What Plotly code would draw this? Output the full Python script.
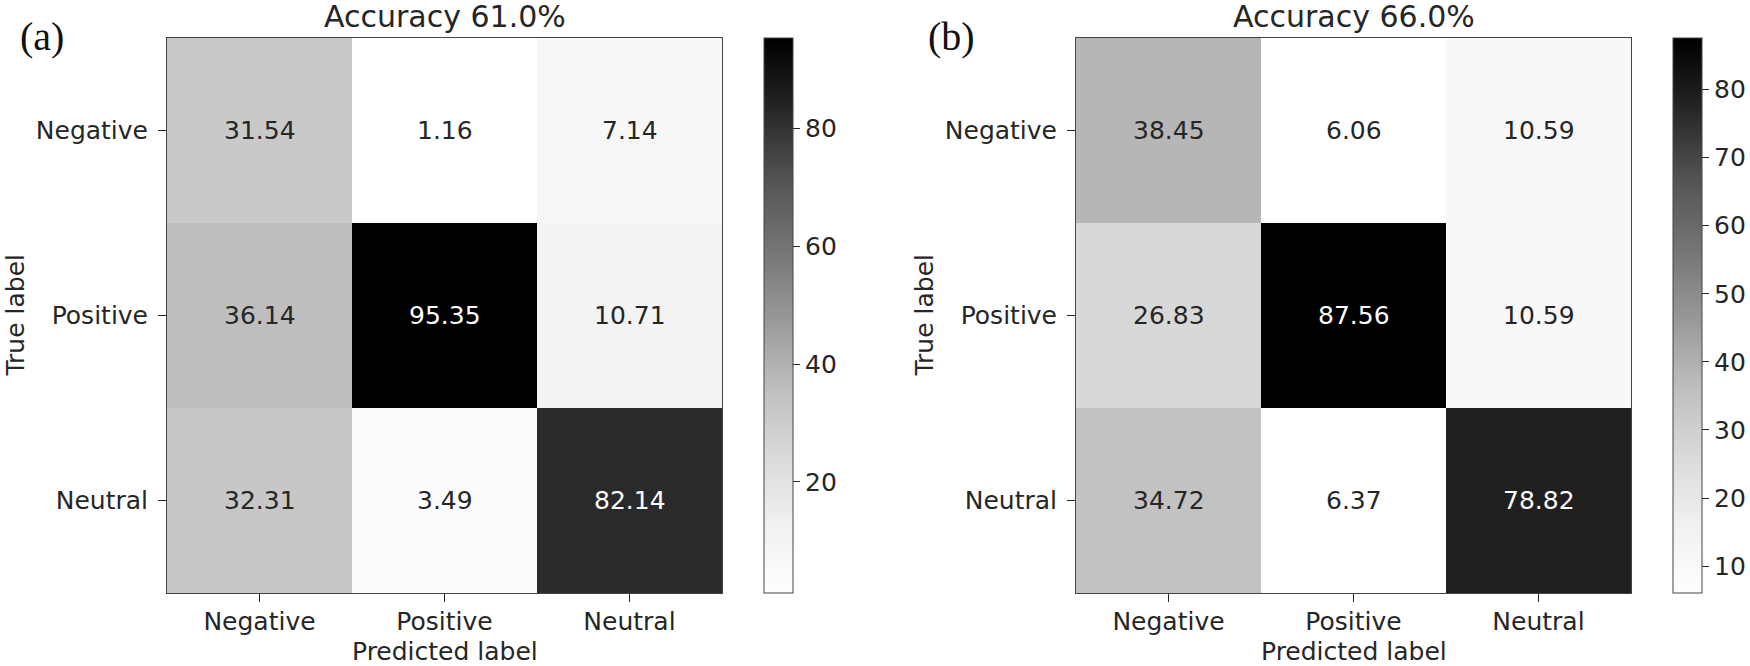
import plotly.graph_objects as go

W, H = 1750, 666

labels = ["Negative", "Positive", "Neutral"]

cm_a = [
    [31.54, 1.16, 7.14],
    [36.14, 95.35, 10.71],
    [32.31, 3.49, 82.14],
]
cm_b = [
    [38.45, 6.06, 10.59],
    [26.83, 87.56, 10.59],
    [34.72, 6.37, 78.82],
]
titles = ["Accuracy 61.0%", "Accuracy 66.0%"]
panel_tags = ["(a)", "(b)"]
cbar_ticks_a = [20, 40, 60, 80]
cbar_ticks_b = [10, 20, 30, 40, 50, 60, 70, 80]

# matplotlib "Greys" colormap
greys_hex = ["#ffffff", "#f0f0f0", "#d9d9d9", "#bdbdbd", "#969696",
             "#737373", "#525252", "#252525", "#000000"]
greys = [[i / (len(greys_hex) - 1), c] for i, c in enumerate(greys_hex)]

FONT = "DejaVu Sans"
TXT = "#262626"
SPINE = "#444444"

def px_x(p):
    return p / W

def px_y(p):
    return 1 - p / H

# layout geometry (pixels)
plot_top, plot_bot = 38, 593
panels = [
    dict(x0=167, x1=722, cb_x=764),
    dict(x0=1076, x1=1631, cb_x=1673),
]
cb_thick = 29

fig = go.Figure()
annotations = []
datasets = [(cm_a, cbar_ticks_a), (cm_b, cbar_ticks_b)]

for k, ((cm, cticks), geo) in enumerate(zip(datasets, panels)):
    xa = "x" if k == 0 else "x2"
    ya = "y" if k == 0 else "y2"
    flat = [v for row in cm for v in row]
    zmin, zmax = min(flat), max(flat)
    fig.add_trace(go.Heatmap(
        z=cm, x=[0, 1, 2], y=[0, 1, 2],
        colorscale=greys, zmin=zmin, zmax=zmax,
        xaxis=xa, yaxis=ya, hoverinfo="skip",
        colorbar=dict(
            x=px_x(geo["cb_x"]), xanchor="left", xref="paper",
            y=px_y((plot_top + plot_bot) / 2), yanchor="middle",
            len=plot_bot - plot_top, lenmode="pixels",
            thickness=cb_thick, thicknessmode="pixels",
            xpad=0, ypad=0,
            outlinewidth=1, outlinecolor=SPINE,
            tickvals=cticks, ticks="outside", ticklen=7, tickwidth=1,
            tickcolor=TXT,
            tickfont=dict(family=FONT, size=25, color=TXT),
        ),
    ))
    thresh = (zmin + zmax) / 2
    for i in range(3):
        for j in range(3):
            v = cm[i][j]
            annotations.append(dict(
                x=j, y=i, xref=xa, yref=ya, text=f"{v:.2f}",
                showarrow=False,
                font=dict(family=FONT, size=25,
                          color="white" if v > thresh else TXT),
            ))
    cx = (geo["x0"] + geo["x1"]) / 2
    # title
    annotations.append(dict(
        x=px_x(cx), y=px_y(16), xref="paper", yref="paper",
        text=titles[k], showarrow=False, xanchor="center", yanchor="middle",
        font=dict(family=FONT, size=30, color=TXT),
    ))
    # x-axis title
    annotations.append(dict(
        x=px_x(cx), y=px_y(651), xref="paper", yref="paper",
        text="Predicted label", showarrow=False, xanchor="center",
        yanchor="middle", font=dict(family=FONT, size=25, color=TXT),
    ))
    # y-axis title
    annotations.append(dict(
        x=px_x(geo["x0"] - 152), y=px_y((plot_top + plot_bot) / 2),
        xref="paper", yref="paper", text="True label", textangle=-90,
        showarrow=False, xanchor="center", yanchor="middle",
        font=dict(family=FONT, size=25, color=TXT),
    ))
    # panel tag
    annotations.append(dict(
        x=px_x(geo["x0"] - 125), y=px_y(36), xref="paper", yref="paper",
        text=panel_tags[k], showarrow=False, xanchor="center",
        yanchor="middle",
        font=dict(family="Liberation Serif", size=40, color="#111111"),
    ))

axis_common = dict(
    showgrid=False, zeroline=False, showline=True, linecolor=SPINE,
    linewidth=1, mirror=True, ticks="outside", ticklen=8, tickwidth=1,
    tickcolor=TXT, tickfont=dict(family=FONT, size=25, color=TXT),
    tickvals=[0, 1, 2], ticktext=labels,
)

fig.update_layout(
    width=W, height=H,
    margin=dict(l=0, r=0, t=0, b=0),
    paper_bgcolor="white", plot_bgcolor="white",
    showlegend=False,
    annotations=annotations,
    xaxis=dict(axis_common, domain=[px_x(panels[0]["x0"]), px_x(panels[0]["x1"])],
               range=[-0.5, 2.5], anchor="y", ticklabelstandoff=-2),
    yaxis=dict(axis_common, domain=[px_y(plot_bot), px_y(plot_top)],
               range=[2.5, -0.5], anchor="x", ticklabelstandoff=5),
    xaxis2=dict(axis_common, domain=[px_x(panels[1]["x0"]), px_x(panels[1]["x1"])],
                range=[-0.5, 2.5], anchor="y2", ticklabelstandoff=-2),
    yaxis2=dict(axis_common, domain=[px_y(plot_bot), px_y(plot_top)],
                range=[2.5, -0.5], anchor="x2", ticklabelstandoff=5),
)

fig.write_html(
    "out.html",
    config={"displayModeBar": False},
    post_script="document.body.style.margin='0';document.body.style.overflow='hidden';",
)
